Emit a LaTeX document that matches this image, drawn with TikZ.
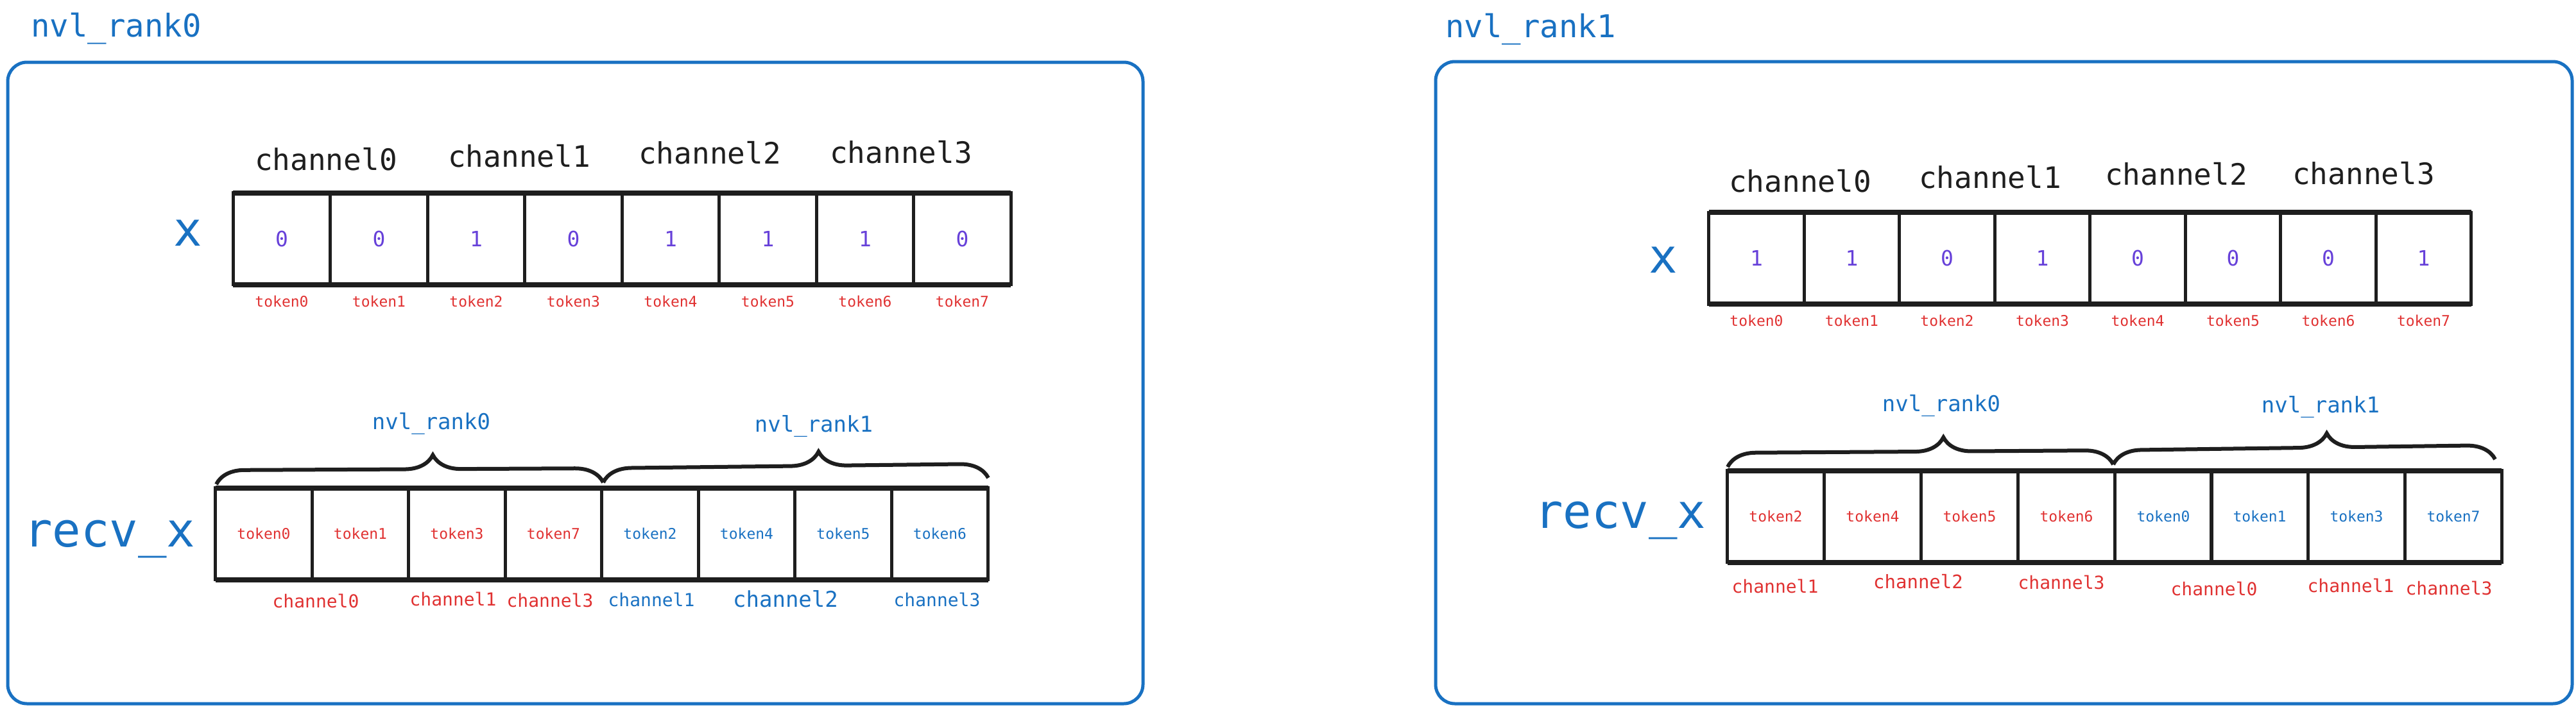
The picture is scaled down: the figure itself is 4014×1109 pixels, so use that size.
\documentclass[tikz,border=0pt]{standalone}
\usepackage{fontspec}
\setmonofont{DejaVu Sans Mono}
\usepackage{tikz}
\usetikzlibrary{positioning,decorations.pathreplacing}
\definecolor{rankblue}{HTML}{1971C2}
\definecolor{tokenred}{HTML}{E03131}
\definecolor{valuepurple}{HTML}{6741D9}
\definecolor{inkblack}{HTML}{1E1E1E}
\newcommand{\pixelsize}{1pt}
\newcommand{\textpx}[1]{\fontsize{#1}{#1}\selectfont\ttfamily}
\newcommand{\makecell}[6]{
	\node[cell, minimum width=#4, text=valuepurple, font=\textpx{33}] (#1) at (#2,#3) {#5};
	\node[tokenlabel, below=17pt of #1] (#1tok) {token#6};
}

\begin{document}
\begin{tikzpicture}[x=\pixelsize,y=-\pixelsize,
	panel/.style={draw=rankblue, line width=5pt, rounded corners=30pt},
	title/.style={text=rankblue, font=\textpx{49}, inner sep=0, anchor=base west},
	arrname/.style={text=rankblue, font=\textpx{74}, inner sep=0},
	chan/.style={text=inkblack, font=\textpx{46}, inner sep=0},
	cell/.style={draw=inkblack, line width=5pt, minimum height=143, inner sep=0, outer sep=0},
	recvcell/.style={cell, minimum width=150.5, font=\textpx{23}},
	rowedge/.style={draw=inkblack, line width=8pt},
	tokenlabel/.style={text=tokenred, font=\textpx{23}, inner sep=0},
	curly/.style={draw=inkblack, line width=6pt, decorate,
		decoration={brace, amplitude=44pt, aspect=0.56}},
	ranklabel/.style={text=rankblue, font=\textpx{34}, inner sep=0},
	chanlabel/.style={font=\textpx{28}, inner sep=0}]
	\useasboundingbox (0,0) rectangle (4014,1109);

	% nvl_rank0
	\draw[panel] (12,97) rectangle (1781,1097);
	\node[title] (ranka) at (48,57) {nvl\_rank0};
	\node[chan] (chana0) at (508,248) {channel0};
	\node[chan] (chana1) at (809,243) {channel1};
	\node[chan] (chana2) at (1106,238) {channel2};
	\node[chan] (chana3) at (1404,237) {channel3};
	\node[arrname, anchor=base] (xa) at (293,383) {x};

	\makecell{xa0}{439}{372}{151.5}{0}{0}
	\makecell{xa1}{590.5}{372}{151.5}{0}{1}
	\makecell{xa2}{742}{372}{151.5}{1}{2}
	\makecell{xa3}{893.5}{372}{151.5}{0}{3}
	\makecell{xa4}{1045}{372}{151.5}{1}{4}
	\makecell{xa5}{1196.5}{372}{151.5}{1}{5}
	\makecell{xa6}{1348}{372}{151.5}{1}{6}
	\makecell{xa7}{1499.5}{372}{151.5}{0}{7}
	\draw[rowedge] (xa0.north west) -- (xa7.north east);
	\draw[rowedge] (xa0.south west) -- (xa7.south east);

	\node[arrname, anchor=base west] (recva) at (37,852) {recv\_x};
	\node[recvcell, text=tokenred] (ra0) at (411,832) {token0};
	\node[recvcell, text=tokenred] (ra1) at (561.5,832) {token1};
	\node[recvcell, text=tokenred] (ra2) at (712,832) {token3};
	\node[recvcell, text=tokenred] (ra3) at (862.5,832) {token7};
	\node[recvcell, text=rankblue] (ra4) at (1013,832) {token2};
	\node[recvcell, text=rankblue] (ra5) at (1163.5,832) {token4};
	\node[recvcell, text=rankblue] (ra6) at (1314,832) {token5};
	\node[recvcell, text=rankblue] (ra7) at (1464.5,832) {token6};
	\draw[rowedge] (ra0.north west) -- (ra7.north east);
	\draw[rowedge] (ra0.south west) -- (ra7.south east);

	\coordinate (bra0) at (337,755);
	\coordinate (bra1) at (940,752);
	\coordinate (bra2) at (1540,745);
	\draw[curly] (bra0) -- (bra1);
	\draw[curly] (bra1) -- (bra2);
	\node[ranklabel] (rla0) at (672,660) {nvl\_rank0};
	\node[ranklabel] (rla1) at (1268,664) {nvl\_rank1};

	\node[chanlabel, text=tokenred] (cla0) at (492,937) {channel0};
	\node[chanlabel, text=tokenred] (cla1) at (706,934) {channel1};
	\node[chanlabel, text=tokenred] (cla2) at (857,936) {channel3};
	\node[chanlabel, text=rankblue] (cla3) at (1015,935) {channel1};
	\node[chanlabel, text=rankblue, font=\textpx{34}] (cla4) at (1224,934) {channel2};
	\node[chanlabel, text=rankblue] (cla5) at (1460,935) {channel3};

	% nvl_rank1
	\draw[panel] (2237,96) rectangle (4008,1097);
	\node[title] (rankb) at (2252,58) {nvl\_rank1};
	\node[chan] (chanb0) at (2805,282) {channel0};
	\node[chan] (chanb1) at (3101,276) {channel1};
	\node[chan] (chanb2) at (3391,271) {channel2};
	\node[chan] (chanb3) at (3683,270) {channel3};
	\node[arrname, anchor=base] (xb) at (2592,425) {x};

	\makecell{xb0}{2737}{402.5}{148.5}{1}{0}
	\makecell{xb1}{2885.5}{402.5}{148.5}{1}{1}
	\makecell{xb2}{3034}{402.5}{148.5}{0}{2}
	\makecell{xb3}{3182.5}{402.5}{148.5}{1}{3}
	\makecell{xb4}{3331}{402.5}{148.5}{0}{4}
	\makecell{xb5}{3479.5}{402.5}{148.5}{0}{5}
	\makecell{xb6}{3628}{402.5}{148.5}{0}{6}
	\makecell{xb7}{3776.5}{402.5}{148.5}{1}{7}
	\draw[rowedge] (xb0.north west) -- (xb7.north east);
	\draw[rowedge] (xb0.south west) -- (xb7.south east);

	\node[arrname, anchor=base west] (recvb) at (2391,823) {recv\_x};
	\node[recvcell, text=tokenred] (rb0) at (2767,805) {token2};
	\node[recvcell, text=tokenred] (rb1) at (2918,805) {token4};
	\node[recvcell, text=tokenred] (rb2) at (3069,805) {token5};
	\node[recvcell, text=tokenred] (rb3) at (3220,805) {token6};
	\node[recvcell, text=rankblue] (rb4) at (3371,805) {token0};
	\node[recvcell, text=rankblue] (rb5) at (3521,805) {token1};
	\node[recvcell, text=rankblue] (rb6) at (3672,805) {token3};
	\node[recvcell, text=rankblue] (rb7) at (3823,805) {token7};
	\draw[rowedge] (rb0.north west) -- (rb7.north east);
	\draw[rowedge] (rb0.south west) -- (rb7.south east);

	\coordinate (brb0) at (2692,728);
	\coordinate (brb1) at (3293,724);
	\coordinate (brb2) at (3888,716);
	\draw[curly] (brb0) -- (brb1);
	\draw[curly] (brb1) -- (brb2);
	\node[ranklabel] (rlb0) at (3025,632) {nvl\_rank0};
	\node[ranklabel] (rlb1) at (3616,634) {nvl\_rank1};

	\node[chanlabel, text=tokenred] (clb0) at (2766,914) {channel1};
	\node[chanlabel, text=tokenred, font=\textpx{29}] (clb1) at (2989,907) {channel2};
	\node[chanlabel, text=tokenred] (clb2) at (3212,908) {channel3};
	\node[chanlabel, text=tokenred] (clb3) at (3450,918) {channel0};
	\node[chanlabel, text=tokenred] (clb4) at (3663,913) {channel1};
	\node[chanlabel, text=tokenred] (clb5) at (3816,917) {channel3};

\end{tikzpicture}
\end{document}
